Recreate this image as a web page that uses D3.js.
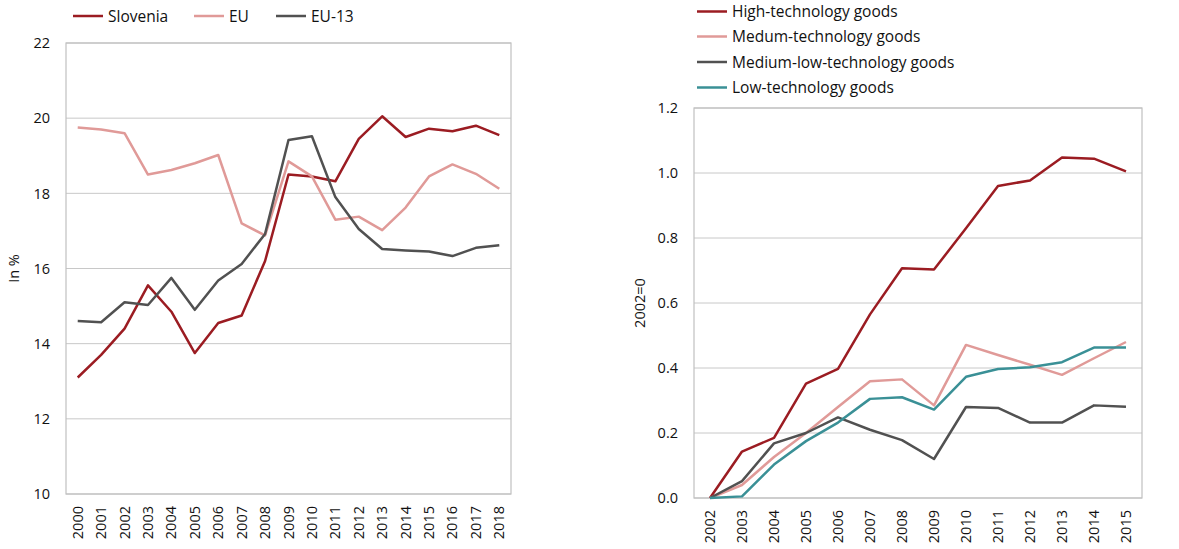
<!DOCTYPE html>
<html>
<head>
<meta charset="utf-8">
<script src="https://cdn.jsdelivr.net/npm/d3@7"></script>
<style>
  body { margin: 0; background: #fff; }
  svg { font-family: "Open Sans", sans-serif; }
  .grid line { stroke: #c8c8c8; stroke-width: 1; }
  .frame { fill: none; stroke: #c0c0c0; stroke-width: 1.2; }
  .tick-label { font-size: 14.5px; fill: #111; }
  .legend-text { font-size: 15.5px; fill: #111; }
</style>
</head>
<body>
<svg id="chart" width="1179" height="549"></svg>
<script>
// Left chart: share in %
const yearsLeft = ["2000","2001","2002","2003","2004","2005","2006","2007","2008","2009",
                   "2010","2011","2012","2013","2014","2015","2016","2017","2018"];
const slovenia = [13.1, 13.7, 14.4, 15.55, 14.85, 13.75, 14.55, 14.75, 16.2, 18.5,
                  18.45, 18.32, 19.45, 20.05, 19.5, 19.72, 19.65, 19.8, 19.55];
const eu = [19.75, 19.7, 19.6, 18.5, 18.62, 18.8, 19.02, 17.2, 16.88, 18.85,
            18.45, 17.3, 17.38, 17.02, 17.62, 18.45, 18.77, 18.52, 18.12];
const eu13 = [14.6, 14.57, 15.1, 15.03, 15.75, 14.9, 15.68, 16.12, 16.92, 19.42,
              19.52, 17.9, 17.05, 16.52, 16.48, 16.45, 16.33, 16.55, 16.62];
const leftTicks = [10, 12, 14, 16, 18, 20, 22];

// Right chart: growth index, 2002=0
const yearsRight = ["2002","2003","2004","2005","2006","2007","2008","2009",
                    "2010","2011","2012","2013","2014","2015"];
const highTech = [0, 0.143, 0.185, 0.352, 0.397, 0.565, 0.707, 0.703, 0.83, 0.96, 0.977, 1.048, 1.044, 1.005];
const mediumTech = [0, 0.04, 0.126, 0.2, 0.28, 0.359, 0.365, 0.285, 0.471, 0.44, 0.41, 0.379, 0.43, 0.48];
const mediumLowTech = [0, 0.052, 0.168, 0.2, 0.248, 0.21, 0.178, 0.12, 0.28, 0.277, 0.232, 0.232, 0.285, 0.281];
const lowTech = [0, 0.005, 0.103, 0.175, 0.232, 0.305, 0.31, 0.272, 0.373, 0.397, 0.402, 0.418, 0.463, 0.463];
const rightTicks = [0, 0.2, 0.4, 0.6, 0.8, 1.0, 1.2];

const darkRed = "#9b1c22";
const pink = "#e09a98";
const darkGray = "#515151";
const teal = "#3a9096";

const svg = d3.select("#chart");

// Draws one line panel with frame, grid, axes labels and lines
function drawPanel(opts) {
  const g = svg.append("g");
  const x = d3.scaleBand().domain(opts.categories).range([opts.left, opts.right]);
  const y = d3.scaleLinear().domain(opts.yDomain).range([opts.bottom, opts.top]);

  // horizontal gridlines
  g.append("g").attr("class", "grid")
    .selectAll("line")
    .data(opts.ticks)
    .enter().append("line")
    .attr("x1", opts.left).attr("x2", opts.right)
    .attr("y1", d => y(d)).attr("y2", d => y(d));

  // plot frame
  g.append("rect").attr("class", "frame")
    .attr("x", opts.left).attr("y", opts.top)
    .attr("width", opts.right - opts.left)
    .attr("height", opts.bottom - opts.top);

  // y tick labels
  g.selectAll(".ylab")
    .data(opts.ticks)
    .enter().append("text")
    .attr("class", "tick-label")
    .attr("x", opts.left - 16)
    .attr("y", d => y(d))
    .attr("dy", "0.36em")
    .attr("text-anchor", "end")
    .text(opts.tickFormat);

  // x tick labels, rotated
  g.selectAll(".xlab")
    .data(opts.categories)
    .enter().append("text")
    .attr("class", "tick-label")
    .attr("transform", d => `translate(${x(d) + x.bandwidth() / 2 + 5},${opts.bottom + 12}) rotate(-90)`)
    .attr("text-anchor", "end")
    .text(d => d);

  // y axis title
  g.append("text")
    .attr("class", "tick-label")
    .attr("transform", `translate(${opts.titleX},${(opts.top + opts.bottom) / 2}) rotate(-90)`)
    .attr("text-anchor", "middle")
    .text(opts.yTitle);

  const line = d3.line()
    .x((d, i) => x(opts.categories[i]) + x.bandwidth() / 2)
    .y(d => y(d));

  g.selectAll(".series")
    .data(opts.series)
    .enter().append("path")
    .attr("fill", "none")
    .attr("stroke", d => d.color)
    .attr("stroke-width", 2.5)
    .attr("stroke-linejoin", "round")
    .attr("d", d => line(d.values));

  // legend
  const leg = g.selectAll(".legend")
    .data(opts.series)
    .enter().append("g")
    .attr("transform", (d, i) => `translate(${opts.legendPos[i][0]},${opts.legendPos[i][1]})`);
  leg.append("line")
    .attr("x1", 0).attr("x2", 30)
    .attr("stroke", d => d.color)
    .attr("stroke-width", 2.5);
  leg.append("text")
    .attr("class", "legend-text")
    .attr("x", 35)
    .attr("dy", "0.36em")
    .text(d => d.name);
}

drawPanel({
  categories: yearsLeft,
  yDomain: [10, 22],
  ticks: leftTicks,
  tickFormat: d => d,
  left: 66, right: 511, top: 43, bottom: 494,
  titleX: 19,
  yTitle: "In %",
  series: [
    { name: "Slovenia", values: slovenia, color: darkRed },
    { name: "EU", values: eu, color: pink },
    { name: "EU-13", values: eu13, color: darkGray }
  ],
  legendPos: [[73, 16], [194, 16], [276, 16]]
});

drawPanel({
  categories: yearsRight,
  yDomain: [0, 1.2],
  ticks: rightTicks,
  tickFormat: d3.format(".1f"),
  left: 694, right: 1142, top: 108, bottom: 498,
  titleX: 645,
  yTitle: "2002=0",
  series: [
    { name: "High-technology goods", values: highTech, color: darkRed },
    { name: "Medum-technology goods", values: mediumTech, color: pink },
    { name: "Medium-low-technology goods", values: mediumLowTech, color: darkGray },
    { name: "Low-technology goods", values: lowTech, color: teal }
  ],
  legendPos: [[697, 11.5], [697, 36.5], [697, 62], [697, 87.5]]
});
</script>
</body>
</html>
